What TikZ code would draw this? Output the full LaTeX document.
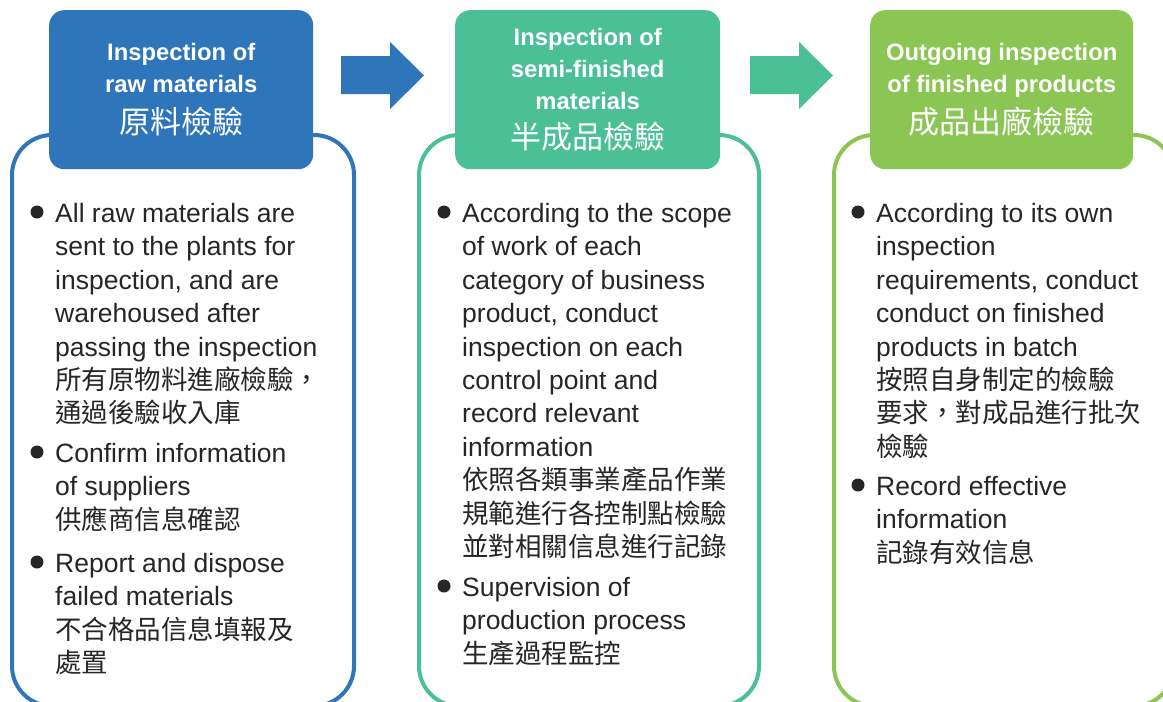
\documentclass[tikz,border=0pt]{standalone}
\usepackage{fontspec}
\setmainfont{Liberation Sans}
\newfontfamily\cjk{Noto Sans CJK TC}
\usetikzlibrary{positioning}

\definecolor{rawblue}{HTML}{2E75B9}
\definecolor{semigreen}{HTML}{4BBF96}
\definecolor{outgreen}{HTML}{8BC553}
\definecolor{bodygray}{HTML}{262626}

\tikzset{
  panel/.style={draw=#1, line width=4pt, rounded corners=40pt, anchor=north west,
    minimum height=571pt, inner sep=0pt},
  header/.style={fill=#1, rounded corners=15pt, anchor=north west, minimum height=159pt,
    inner sep=0pt, text=white, align=center, font=\bfseries\fontsize{23.8}{32}\selectfont},
  itemtext/.style={anchor=north west, align=left, inner sep=0pt, text=bodygray,
    font=\fontsize{26.5}{33.4}\selectfont},
  dotmark/.style={circle, fill=bodygray, minimum size=13pt, inner sep=0pt},
}
\newcommand{\headcjk}[1]{{\cjk\mdseries\fontsize{31}{41}\selectfont #1}}

\begin{document}
\begin{tikzpicture}[x=1pt,y=-1pt]
  \clip (0,0) rectangle (1163,702);
  % outlined panels
  \node[panel=rawblue, minimum width=342pt] (p1) at (10,133) {};
  \node[panel=semigreen, minimum width=340pt] (p2) at (417,133) {};
  \node[panel=outgreen, minimum width=340pt] (p3) at (832,133) {};
  % headers
  \node[header=rawblue, minimum width=264pt] (h1) at (49,10)
    {Inspection of\\raw materials\\[9pt]\headcjk{原料檢驗}};
  \node[header=semigreen, minimum width=265pt] (h2) at (455,10)
    {Inspection of\\semi-finished\\materials\\[7pt]\headcjk{半成品檢驗}};
  \node[header=outgreen, minimum width=263pt] (h3) at (870,10)
    {Outgoing inspection\\of finished products\\[9pt]\headcjk{成品出廠檢驗}};
  % block arrows
  \fill[rawblue] (341,56) -- (390,56) -- (390,42) -- (424,75.5) -- (390,109)
    -- (390,94) -- (341,94) -- cycle;
  \fill[semigreen] (750,56) -- (799,56) -- (799,42) -- (833,75.5) -- (799,109)
    -- (799,94) -- (750,94) -- cycle;
  % raw materials
  \node[itemtext] (i11) at (55,203) {All raw materials are\\sent to the plants for\\
    inspection, and are\\warehoused after\\passing the inspection\\
    {\cjk 所有原物料進廠檢驗，}\\{\cjk 通過後驗收入庫}};
  \node[itemtext] (i12) at (55,443) {Confirm information\\of suppliers\\{\cjk 供應商信息確認}};
  \node[itemtext] (i13) at (55,553) {Report and dispose\\failed materials\\
    {\cjk 不合格品信息填報及}\\{\cjk 處置}};
  % semi-finished materials
  \node[itemtext] (i21) at (462,203) {According to the scope\\of work of each\\
    category of business\\product, conduct\\inspection on each\\control point and\\
    record relevant\\information\\{\cjk 依照各類事業產品作業}\\
    {\cjk 規範進行各控制點檢驗}\\{\cjk 並對相關信息進行記錄}};
  \node[itemtext] (i22) at (462,577) {Supervision of\\production process\\{\cjk 生產過程監控}};
  % finished products
  \node[itemtext] (i31) at (876,203) {According to its own\\inspection\\
    requirements, conduct\\conduct on finished\\products in batch\\
    {\cjk 按照自身制定的檢驗}\\{\cjk 要求，對成品進行批次}\\{\cjk 檢驗}};
  \node[itemtext] (i32) at (876,476) {Record effective\\information\\{\cjk 記錄有效信息}};
  % bullets
  \foreach \t in {i11,i12,i13,i21,i22,i31,i32}
    \node[dotmark] (b-\t) at ([xshift=-18pt,yshift=-9pt]\t.north west) {};
\end{tikzpicture}
\end{document}
